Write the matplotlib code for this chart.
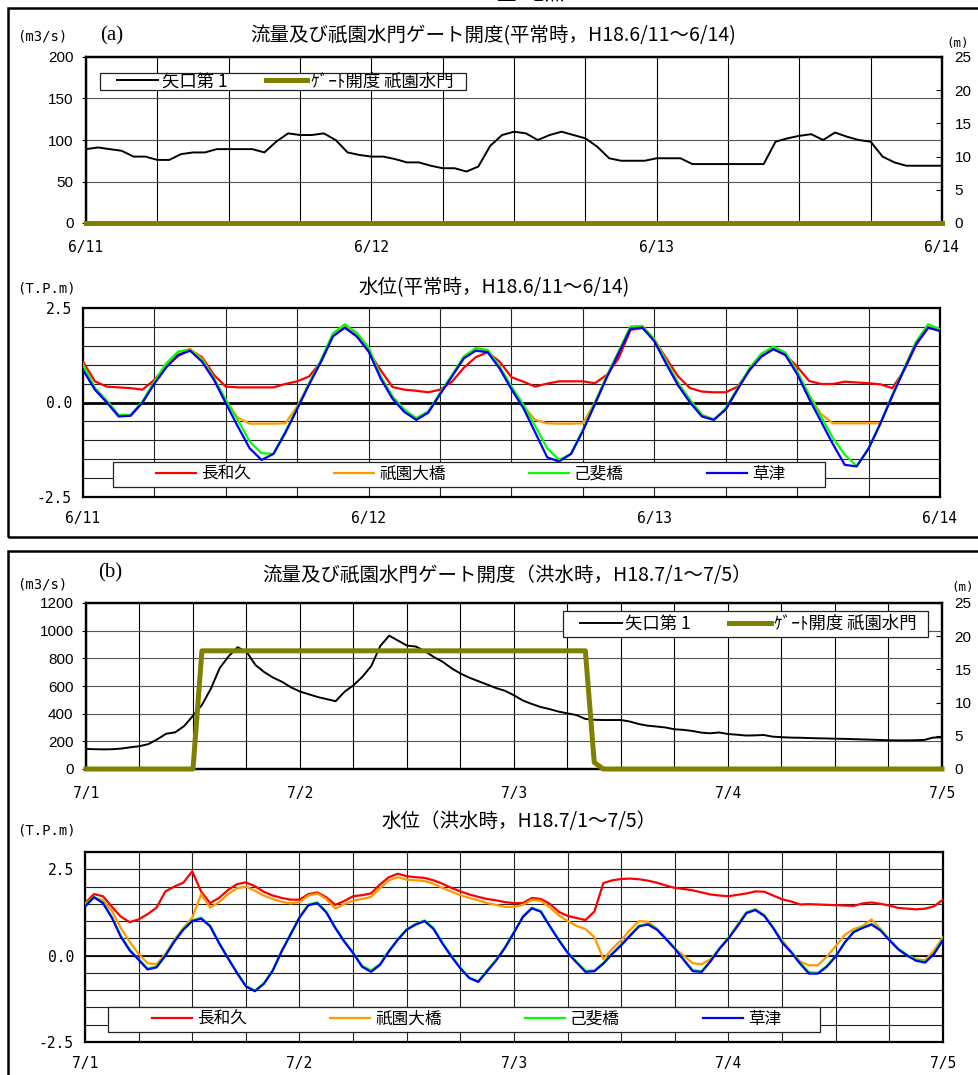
import numpy as np
import matplotlib
matplotlib.use('Agg')
import matplotlib.pyplot as plt
from matplotlib.patches import Rectangle
from matplotlib.lines import Line2D

plt.rcParams['font.family'] = ['Noto Sans CJK JP', 'DejaVu Sans']
MONO = 'DejaVu Sans Mono'
ARIAL = 'Liberation Sans'

W, H = 979, 1075
def fx(x): return x / W
def fy(y): return 1 - y / H

# ---------------- data (hourly) ----------------
days_a = ['6/11', '6/12', '6/13', '6/14']
days_b = ['7/1', '7/2', '7/3', '7/4', '7/5']
names = ['長和久', '祇園大橋', '己斐橋', '草津']
flow_names = ['矢口第 1', 'ｹﾞｰﾄ開度 祇園水門']

# (a) normal time, 6/11 0:00 - 6/14 0:00
flow_a = [89, 91, 89, 87, 80, 80, 76, 76, 83, 85,
          85, 89, 89, 89, 89, 85, 98, 108, 106, 106,
          108, 100, 85, 82, 80, 80, 77, 73, 73, 69,
          66, 66, 62, 68, 93, 106, 110, 108, 100, 106,
          110, 106, 102, 92, 78, 75, 75, 75, 78, 78,
          78, 71, 71, 71, 71, 71, 71, 71, 98, 102,
          105, 107, 100, 109, 104, 100, 98, 80, 73, 69,
          69, 69, 69]
gate_a_t = [0, 72]
gate_a = [0, 0]

red_a = [1.08, 0.56, 0.42, 0.40, 0.38, 0.34, 0.60, 0.97, 1.23, 1.39,
         1.20, 0.73, 0.42, 0.40, 0.40, 0.40, 0.40, 0.49, 0.56, 0.69,
         1.08, 1.79, 1.98, 1.75, 1.35, 0.86, 0.41, 0.34, 0.31, 0.27,
         0.34, 0.55, 0.92, 1.20, 1.33, 1.08, 0.67, 0.55, 0.42, 0.50,
         0.56, 0.56, 0.56, 0.51, 0.73, 1.17, 1.92, 1.97, 1.66, 1.17,
         0.69, 0.38, 0.29, 0.27, 0.27, 0.42, 0.86, 1.22, 1.41, 1.26,
         0.95, 0.57, 0.49, 0.49, 0.55, 0.53, 0.51, 0.48, 0.38, 0.86,
         1.53, 1.97, 1.92]
orange_a = [1.00, 0.38, 0.05, -0.35, -0.35, 0.00, 0.52, 1.00, 1.33, 1.42,
            1.16, 0.64, 0.05, -0.40, -0.56, -0.56, -0.56, -0.55, -0.10, 0.50,
            1.10, 1.80, 2.03, 1.85, 1.45, 0.70, 0.16, -0.20, -0.43, -0.25,
            0.22, 0.72, 1.20, 1.42, 1.38, 0.95, 0.40, -0.10, -0.46, -0.55,
            -0.56, -0.56, -0.55, 0.00, 0.70, 1.35, 2.00, 2.03, 1.68, 1.10,
            0.52, 0.07, -0.33, -0.44, -0.20, 0.36, 0.90, 1.29, 1.45, 1.32,
            0.82, 0.20, -0.30, -0.55, -0.55, -0.55, -0.55, -0.55, 0.20, 0.90,
            1.60, 2.03, 1.92]
green_a = [1.00, 0.38, 0.05, -0.33, -0.33, 0.03, 0.56, 1.04, 1.35, 1.39,
           1.13, 0.64, 0.07, -0.46, -1.03, -1.34, -1.36, -0.77, -0.15, 0.51,
           1.13, 1.83, 2.07, 1.83, 1.44, 0.69, 0.16, -0.19, -0.41, -0.24,
           0.25, 0.73, 1.22, 1.44, 1.39, 0.95, 0.42, -0.06, -0.63, -1.21,
           -1.52, -1.36, -0.72, -0.02, 0.69, 1.35, 2.01, 2.01, 1.66, 1.08,
           0.51, 0.07, -0.33, -0.46, -0.15, 0.38, 0.91, 1.29, 1.48, 1.32,
           0.82, 0.20, -0.37, -0.94, -1.38, -1.68, -1.21, -0.55, 0.20, 0.91,
           1.61, 2.07, 1.94]
blue_a = [0.86, 0.34, 0.00, -0.37, -0.35, 0.00, 0.50, 0.93, 1.26, 1.37,
          1.08, 0.60, -0.02, -0.63, -1.21, -1.52, -1.36, -0.80, -0.17, 0.48,
          1.08, 1.75, 1.98, 1.75, 1.35, 0.64, 0.10, -0.25, -0.46, -0.27,
          0.22, 0.69, 1.17, 1.37, 1.33, 0.90, 0.35, -0.15, -0.80, -1.45,
          -1.56, -1.36, -0.75, -0.05, 0.66, 1.30, 1.95, 1.98, 1.62, 1.02,
          0.45, 0.00, -0.37, -0.46, -0.18, 0.35, 0.86, 1.22, 1.41, 1.26,
          0.75, 0.10, -0.50, -1.10, -1.65, -1.69, -1.22, -0.55, 0.18, 0.88,
          1.55, 1.98, 1.89]

# (b) flood time, 7/1 0:00 - 7/5 0:00
flow_b = [145, 143, 142, 143, 148, 157, 165, 180, 215, 255,
          265, 310, 385, 463, 580, 730, 815, 880, 848, 752,
          700, 660, 630, 590, 560, 540, 520, 505, 490, 559,
          605, 667, 745, 889, 964, 928, 892, 885, 852, 810,
          775, 728, 690, 660, 635, 610, 585, 565, 533, 495,
          470, 448, 433, 415, 402, 390, 362, 356, 354, 354,
          354, 343, 325, 313, 307, 300, 287, 283, 275, 263,
          258, 264, 253, 248, 242, 243, 246, 234, 230, 227,
          226, 224, 222, 221, 219, 218, 216, 214, 212, 210,
          208, 207, 207, 208, 210, 227, 229]
gate_b_t = [0, 12, 13, 56, 57, 58, 96]
gate_b = [0, 0, 17.8, 17.8, 1.0, 0, 0]

red_b = [1.52, 1.78, 1.72, 1.42, 1.13, 0.97, 1.05, 1.20, 1.39, 1.86,
         2.00, 2.11, 2.44, 1.85, 1.52, 1.67, 1.90, 2.07, 2.12, 2.01,
         1.85, 1.74, 1.67, 1.62, 1.62, 1.78, 1.83, 1.69, 1.47, 1.58,
         1.72, 1.75, 1.80, 2.06, 2.27, 2.37, 2.30, 2.27, 2.25, 2.18,
         2.08, 1.96, 1.86, 1.77, 1.70, 1.64, 1.60, 1.55, 1.52, 1.52,
         1.67, 1.64, 1.50, 1.27, 1.15, 1.09, 1.03, 1.28, 2.10, 2.18,
         2.22, 2.23, 2.21, 2.17, 2.11, 2.03, 1.96, 1.93, 1.89, 1.83,
         1.77, 1.74, 1.72, 1.76, 1.80, 1.86, 1.85, 1.74, 1.63, 1.57,
         1.48, 1.49, 1.48, 1.47, 1.46, 1.45, 1.44, 1.51, 1.54, 1.50,
         1.45, 1.38, 1.36, 1.34, 1.36, 1.43, 1.62]
orange_b = [1.49, 1.69, 1.60, 1.30, 0.80, 0.40, 0.05, -0.22, -0.25, 0.05,
            0.46, 0.80, 1.10, 1.78, 1.39, 1.55, 1.78, 1.95, 2.00, 1.88,
            1.74, 1.64, 1.56, 1.51, 1.55, 1.74, 1.80, 1.64, 1.36, 1.49,
            1.59, 1.64, 1.70, 1.95, 2.18, 2.27, 2.20, 2.18, 2.16, 2.08,
            1.96, 1.85, 1.75, 1.67, 1.60, 1.52, 1.47, 1.41, 1.41, 1.47,
            1.62, 1.59, 1.40, 1.17, 1.00, 0.86, 0.77, 0.53, -0.10, 0.20,
            0.45, 0.75, 1.00, 0.98, 0.78, 0.50, 0.20, 0.00, -0.22, -0.25,
            -0.10, 0.20, 0.50, 0.90, 1.25, 1.34, 1.18, 0.80, 0.45, 0.12,
            -0.17, -0.28, -0.28, -0.03, 0.28, 0.60, 0.77, 0.86, 1.05, 0.78,
            0.45, 0.20, 0.00, -0.10, -0.13, 0.15, 0.54]
green_b = [1.46, 1.70, 1.55, 1.12, 0.58, 0.18, -0.10, -0.37, -0.32, 0.02,
           0.43, 0.77, 1.02, 1.10, 0.87, 0.38, -0.06, -0.48, -0.87, -1.01,
           -0.80, -0.42, 0.14, 0.63, 1.12, 1.48, 1.54, 1.27, 0.82, 0.43,
           0.09, -0.29, -0.43, -0.24, 0.14, 0.48, 0.77, 0.92, 1.02, 0.80,
           0.37, 0.00, -0.35, -0.63, -0.74, -0.42, -0.12, 0.25, 0.69, 1.14,
           1.39, 1.29, 0.87, 0.47, 0.10, -0.18, -0.44, -0.43, -0.21, 0.07,
           0.33, 0.60, 0.87, 0.92, 0.77, 0.50, 0.22, -0.11, -0.42, -0.45,
           -0.15, 0.22, 0.52, 0.87, 1.25, 1.34, 1.17, 0.82, 0.40, 0.12,
           -0.20, -0.48, -0.50, -0.30, 0.00, 0.37, 0.70, 0.82, 0.92, 0.75,
           0.47, 0.20, 0.02, -0.12, -0.18, 0.07, 0.48]
blue_b = [1.42, 1.69, 1.52, 1.10, 0.55, 0.15, -0.12, -0.40, -0.34, 0.00,
          0.41, 0.75, 1.00, 1.07, 0.85, 0.36, -0.08, -0.50, -0.89, -1.03,
          -0.82, -0.44, 0.12, 0.61, 1.10, 1.46, 1.52, 1.25, 0.80, 0.41,
          0.07, -0.32, -0.47, -0.27, 0.12, 0.46, 0.75, 0.90, 1.00, 0.77,
          0.35, -0.03, -0.37, -0.65, -0.76, -0.45, -0.14, 0.23, 0.67, 1.12,
          1.37, 1.27, 0.85, 0.45, 0.08, -0.20, -0.47, -0.45, -0.23, 0.05,
          0.30, 0.58, 0.85, 0.90, 0.75, 0.48, 0.20, -0.13, -0.45, -0.47,
          -0.16, 0.20, 0.50, 0.85, 1.23, 1.32, 1.15, 0.80, 0.38, 0.10,
          -0.23, -0.52, -0.52, -0.32, -0.02, 0.38, 0.68, 0.80, 0.90, 0.73,
          0.45, 0.18, 0.00, -0.15, -0.20, 0.05, 0.45]

line_colors = ['#ff0000', '#ff9900', '#00ff00', '#0000ff']
OLIVE = '#808000'

fig = plt.figure(figsize=(9.79, 10.75), dpi=100)


def style_spines(ax):
    for s in ax.spines.values():
        s.set_linewidth(1.6)
        s.set_color('black')


def legend_box(ax, x0, y0, x1, y1):
    r = Rectangle((x0, y0), x1 - x0, y1 - y0, transform=ax.transAxes,
                  facecolor='white', edgecolor='#222222', lw=0.9, zorder=8)
    ax.add_patch(r)


def xticks_days(ax, days, pad):
    nh = 24 * (len(days) - 1)
    ax.set_xlim(0, nh)
    ticks = np.arange(0, nh + 1, 6)
    ax.set_xticks(ticks)
    ax.set_xticklabels([days[t // 24] if t % 24 == 0 else '' for t in ticks])
    ax.tick_params(axis='x', length=0, pad=pad, labelsize=10.5,
                   labelfontfamily=MONO)


def flow_panel(box, days, flow, gate_t, gate, ymax, ystep, leg):
    l, t, r, b = box
    ax = fig.add_axes([fx(l), fy(b), (r - l) / W, (b - t) / H])
    x = np.arange(len(flow))
    ax.plot(x, flow, color='black', lw=1.4, zorder=3)
    ax.set_ylim(0, ymax)
    ax.set_yticks(np.arange(0, ymax + 1, ystep))
    xticks_days(ax, days, 12)
    ax.tick_params(axis='y', length=3, pad=6, labelsize=11,
                   labelfontfamily=ARIAL)
    ax.xaxis.grid(True, color='black', lw=0.8)
    ax.yaxis.grid(True, color='#555555', lw=0.8)
    ax.set_axisbelow(True)
    style_spines(ax)

    ax2 = ax.twinx()
    ax2.plot(gate_t, gate, color=OLIVE, lw=3.6, zorder=4, clip_on=False)
    ax2.set_ylim(0, 25)
    ax2.set_yticks(np.arange(0, 26, 5))
    ax2.tick_params(axis='y', direction='in', length=4, pad=9,
                    labelsize=11, labelfontfamily=ARIAL)
    style_spines(ax2)

    bx0, by0, bx1, by1, hx = leg
    legend_box(ax2, bx0, by0, bx1, by1)
    hs = [Line2D([], [], color='black', lw=1.4),
          Line2D([], [], color=OLIVE, lw=3.6)]
    lg = ax2.legend(hs, flow_names, ncol=2, frameon=False, loc='center left',
                    bbox_to_anchor=(hx, (by0 + by1) / 2), borderpad=0,
                    borderaxespad=0, handlelength=2.4, handletextpad=0.2,
                    columnspacing=2.2, fontsize=12.5)
    lg.set_zorder(9)
    return ax


def level_panel(box, days, series, ylo, yhi, zero_lw, leg, xpad):
    l, t, r, b = box
    ax = fig.add_axes([fx(l), fy(b), (r - l) / W, (b - t) / H])
    for s, c in zip(series, line_colors):
        ax.plot(np.arange(len(s)), s, color=c, lw=1.6, zorder=3)
    ax.set_ylim(ylo, yhi)
    yt = np.arange(ylo, yhi + 0.01, 0.5)
    ax.set_yticks(yt)
    ax.set_yticklabels(['%.1f' % v if abs(v) in (0.0, 2.5) else '' for v in yt])
    ax.tick_params(axis='y', length=0, pad=8, labelsize=10.5,
                   labelfontfamily=MONO)
    xticks_days(ax, days, xpad)
    ax.grid(True, color='#222222', lw=0.8)
    ax.set_axisbelow(True)
    ax.axhline(0, color='black', lw=zero_lw, zorder=2)
    style_spines(ax)

    bx0, by0, bx1, by1, hx = leg
    legend_box(ax, bx0, by0, bx1, by1)
    hs = [Line2D([], [], color=c, lw=1.6) for c in line_colors]
    lg = ax.legend(hs, names, ncol=4, frameon=False, loc='center left',
                   bbox_to_anchor=(hx, (by0 + by1) / 2), borderpad=0,
                   borderaxespad=0, handlelength=2.4, handletextpad=0.3,
                   columnspacing=5.0, fontsize=12)
    lg.set_zorder(9)
    return ax


# ---------------- panel (a) ----------------
flow_panel((86, 57, 942, 223), days_a, flow_a, gate_a_t, gate_a, 200, 50,
           (0.016, 0.801, 0.444, 0.904, 0.036))
level_panel((83, 308, 940, 497), days_a, [red_a, orange_a, green_a, blue_a],
            -2.5, 2.5, 2.0, (0.035, 0.053, 0.866, 0.185, 0.085), 10)

fig.text(fx(493), fy(36), '流量及び祇園水門ゲート開度(平常時，H18.6/11～6/14)',
         ha='center', va='center', fontsize=14)
fig.text(fx(100), fy(36), '(a)', ha='left', va='center', fontsize=15,
         family='Liberation Serif')
fig.text(fx(17), fy(37), '(m3/s)', ha='left', va='center', fontsize=10,
         family=MONO)
fig.text(fx(958), fy(44), '(m)', ha='center', va='center', fontsize=9,
         family=MONO)
fig.text(fx(494), fy(288), '水位(平常時，H18.6/11～6/14)',
         ha='center', va='center', fontsize=14)
fig.text(fx(17), fy(289), '(T.P.m)', ha='left', va='center', fontsize=10,
         family=MONO)

# ---------------- panel (b) ----------------
flow_panel((86, 603, 942, 769), days_b, flow_b, gate_b_t, gate_b, 1200, 200,
           (0.557, 0.795, 0.984, 0.952, 0.577))
level_panel((85, 852, 943, 1042), days_b, [red_b, orange_b, green_b, blue_b],
            -2.5, 3.0, 1.2, (0.027, 0.053, 0.857, 0.184, 0.078), 10)

fig.text(fx(507), fy(576), '流量及び祇園水門ゲート開度（洪水時，H18.7/1～7/5）',
         ha='center', va='center', fontsize=14)
fig.text(fx(98), fy(573), '(b)', ha='left', va='center', fontsize=15,
         family='Liberation Serif')
fig.text(fx(17), fy(585), '(m3/s)', ha='left', va='center', fontsize=10,
         family=MONO)
fig.text(fx(963), fy(588), '(m)', ha='center', va='center', fontsize=9,
         family=MONO)
fig.text(fx(519), fy(822), '水位（洪水時，H18.7/1～7/5）',
         ha='center', va='center', fontsize=14)
fig.text(fx(17), fy(830), '(T.P.m)', ha='left', va='center', fontsize=10,
         family=MONO)

# panel frames and the header that is cut at the top edge
fig.add_artist(Rectangle((fx(8), fy(537)), 1.2, (537 - 8) / H,
                         transform=fig.transFigure, fill=False, lw=1.8,
                         ec='black'))
fig.add_artist(Rectangle((fx(8), -0.2), 1.2, fy(551) + 0.2,
                         transform=fig.transFigure, fill=False, lw=1.8,
                         ec='black'))
fig.text(fx(497), fy(0.5), '量  地点', ha='left', va='baseline', fontsize=14)

fig.savefig('out.png', dpi=100)
